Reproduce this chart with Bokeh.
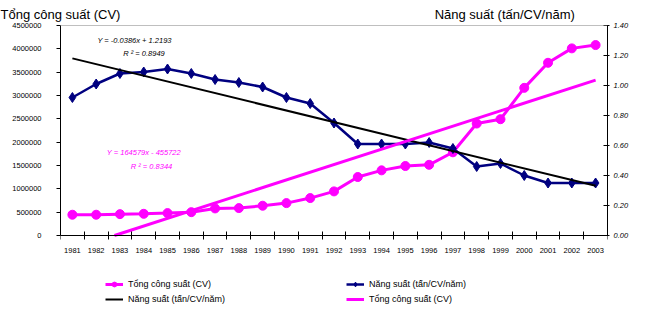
from bokeh.plotting import figure
from bokeh.models import (Range1d, LinearAxis, FixedTicker, NumeralTickFormatter,
                          Label, Legend, LegendItem, Title, Span)
from bokeh.embed import file_html
from bokeh.resources import INLINE

# ---- data ----
years = [1981, 1982, 1983, 1984, 1985, 1986, 1987, 1988, 1989, 1990, 1991, 1992,
         1993, 1994, 1995, 1996, 1997, 1998, 1999, 2000, 2001, 2002, 2003]
tong_cong_suat = [445000, 445000, 458000, 465000, 480000, 500000, 580000, 587000,
                  638000, 694000, 802000, 945000, 1253000, 1396000, 1489000, 1515000,
                  1783000, 2399000, 2492000, 3164000, 3701000, 4010000, 4081000]
nang_suat = [0.92, 1.01, 1.08, 1.09, 1.11, 1.08, 1.04, 1.02, 0.99, 0.92, 0.88, 0.75,
             0.61, 0.61, 0.61, 0.62, 0.58, 0.46, 0.48, 0.40, 0.35, 0.35, 0.35]
# trend lines (as drawn; the CV trend is cut where it meets the x axis)
trend_ns_years = [1981, 2003]
trend_nang_suat = [1.1807, 0.3315]
trend_cs_years = [1982.77, 2003]
trend_cong_suat = [0, 3329595]
left_ticks = [0, 500000, 1000000, 1500000, 2000000, 2500000, 3000000, 3500000,
              4000000, 4500000]
right_ticks = [0.0, 0.2, 0.4, 0.6, 0.8, 1.0, 1.2, 1.4]
left_max = 4500000
right_max = 1.4

label_cs = "Tổng công suất (CV)"
label_ns = "Năng suất (tấn/CV/năm)"
eq_ns = "Y = -0.0386x + 1.2193"
r2_ns = "R ² = 0.8949"
eq_cs = "Y = 164579x - 455722"
r2_cs = "R ² = 0.8344"

FONT = "Liberation Sans"
PINK = "#FF00FF"
NAVY = "#000080"

# layout: plot area 210 px tall, frame extended 73 px below it for the legend
PLOT_H = 210
EXTRA = 73
left_min = -left_max * EXTRA / PLOT_H
right_min = -right_max * EXTRA / PLOT_H

p = figure(frame_width=547, frame_height=PLOT_H + EXTRA, output_backend="svg",
           toolbar_location=None,
           x_range=Range1d(1980.5, 2003.5), y_range=Range1d(left_min, left_max),
           min_border_left=60, min_border_right=52, min_border_top=24,
           min_border_bottom=20)
p.extra_y_ranges = {"ns": Range1d(right_min, right_max)}
p.xgrid.visible = False
p.ygrid.visible = False
p.background_fill_color = "white"
p.border_fill_color = "white"
p.outline_line_color = None
p.add_layout(Span(location=left_max, dimension="width", line_color="#808080",
                  line_width=1))

# the two axis titles share the strip above the plot
gap = "\u00a0" * 87
p.title = Title(text=label_cs + gap + label_ns, align="left", offset=-60,
                standoff=8, text_font=FONT, text_font_size="13px",
                text_font_style="normal", text_color="black")

# x axis, drawn at the zero line
xa = p.xaxis[0]
xa.fixed_location = 0
xa.ticker = FixedTicker(ticks=years, minor_ticks=[y - 0.5 for y in years] + [2003.5])
xa.major_tick_in = 0
xa.major_tick_out = 0
xa.minor_tick_in = 4
xa.minor_tick_out = 4
xa.minor_tick_line_color = "black"
xa.axis_line_color = "black"
xa.major_label_text_font = FONT
xa.major_label_text_font_size = "7.5px"
xa.major_label_text_color = "black"
xa.major_label_standoff = 8

# left y axis
ya = p.yaxis[0]
ya.bounds = (0, left_max)
ya.ticker = FixedTicker(ticks=left_ticks)
ya.formatter = NumeralTickFormatter(format="0")
ya.major_tick_in = 0
ya.major_tick_out = 4
ya.minor_tick_line_color = None
ya.axis_line_color = "black"
ya.major_label_text_font = FONT
ya.major_label_text_font_size = "7.5px"
ya.major_label_text_color = "black"
ya.major_label_standoff = 15

# right y axis
ra = LinearAxis(y_range_name="ns", ticker=FixedTicker(ticks=right_ticks),
                formatter=NumeralTickFormatter(format="0.00"), bounds=(0, right_max))
ra.major_tick_in = 4
ra.major_tick_out = 2
ra.minor_tick_line_color = None
ra.axis_line_color = "black"
ra.major_label_text_font = FONT
ra.major_label_text_font_size = "7.5px"
ra.major_label_text_font_style = "italic"
ra.major_label_text_color = "black"
ra.major_label_standoff = 4
p.add_layout(ra, "right")

# series
cs_line = p.line(years, tong_cong_suat, line_color=PINK, line_width=3)
cs_pts = p.scatter(years, tong_cong_suat, marker="circle", size=9,
                   fill_color=PINK, line_color=PINK)
ns_line = p.line(years, nang_suat, line_color=NAVY, line_width=2.5, y_range_name="ns")
ns_pts = p.scatter(years, nang_suat, marker="diamond", size=10,
                   fill_color=NAVY, line_color=NAVY, y_range_name="ns")
ns_trend = p.line(trend_ns_years, trend_nang_suat, line_color="black", line_width=2,
                  y_range_name="ns")
cs_trend = p.line(trend_cs_years, trend_cong_suat, line_color=PINK, line_width=3)

# legend (under the x axis labels)
items = [LegendItem(label=label_cs, renderers=[cs_line, cs_pts]),
         LegendItem(label=label_ns, renderers=[ns_trend]),
         LegendItem(label=label_ns, renderers=[ns_line, ns_pts]),
         LegendItem(label=label_cs, renderers=[cs_trend])]
legend = Legend(items=items, ncols=2, location=(45, 3), orientation="vertical",
                padding=0, margin=0, spacing=3, glyph_width=18, glyph_height=12,
                label_height=12, label_standoff=5, label_width=215,
                label_text_font=FONT, label_text_font_size="9px",
                label_text_color="black", border_line_color=None,
                background_fill_alpha=0)
p.add_layout(legend)

# trend equations
def add_label(text, x, y, color="black"):
    p.add_layout(Label(x=x, y=y + EXTRA, x_units="screen", y_units="screen", text=text,
                       text_font=FONT, text_font_size="7.5px",
                       text_align="center", text_baseline="middle",
                       text_font_style="italic", text_color=color))

add_label(eq_ns, 74, 195)
add_label(r2_ns, 83.5, 182.3)
add_label(eq_cs, 83.3, 83.3, PINK)
add_label(r2_cs, 91, 69, PINK)

open("out.html", "w").write(file_html(p, INLINE))
